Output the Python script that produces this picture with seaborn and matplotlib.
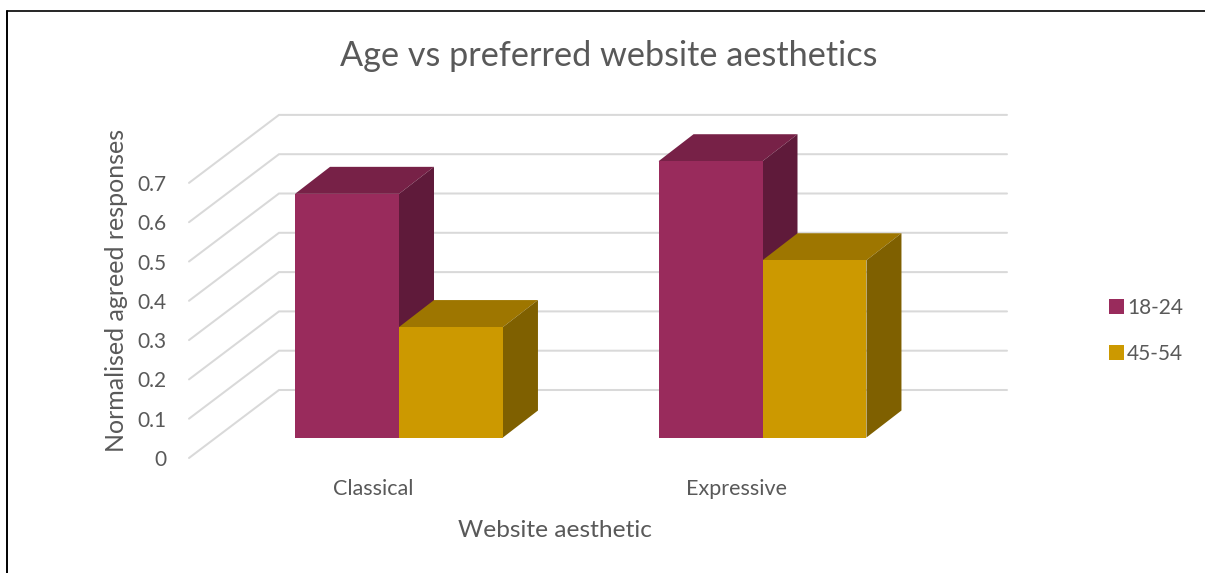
import matplotlib
matplotlib.use("Agg")
import matplotlib.pyplot as plt
import pandas as pd
import seaborn as sns
from matplotlib.lines import Line2D
from matplotlib.patches import Polygon
from matplotlib.transforms import ScaledTranslation

# Chart data
categories = ["Classical", "Expressive"]
age_groups = ["18-24", "45-54"]
values_18_24 = [0.62, 0.703]
values_45_54 = [0.281, 0.451]
y_ticks = [0, 0.1, 0.2, 0.3, 0.4, 0.5, 0.6, 0.7]
y_tick_labels = ["0", "0.1", "0.2", "0.3", "0.4", "0.5", "0.6", "0.7"]

# Face colours of the extruded columns: front, top, side
front_colors = {"18-24": "#992B5C", "45-54": "#CC9900"}
top_colors = {"18-24": "#772147", "45-54": "#9E7600"}
side_colors = {"18-24": "#5F1A3A", "45-54": "#7F6000"}
TEXT = "#595959"
GRID = "#D9D9D9"

W, H, DPI = 1205, 573, 100
sns.set_theme(style="white")
plt.rcParams["font.family"] = ["Lato", "DejaVu Sans"]

fig = plt.figure(figsize=(W / DPI, H / DPI), dpi=DPI, facecolor="white")

# Axes span the floor line of the columns up to the back wall's top
left, right, base, top = 189, 1007, 437.5, 114.0
ax = fig.add_axes([left / W, 1 - base / H, (right - left) / W, (base - top) / H])
ax.set_facecolor("none")

df = pd.DataFrame({
    "aesthetic": categories * 2,
    "age": [age_groups[0]] * 2 + [age_groups[1]] * 2,
    "value": values_18_24 + values_45_54,
})
sns.barplot(data=df, x="aesthetic", y="value", hue="age", order=categories,
            hue_order=age_groups, palette=front_colors, width=0.572, gap=0,
            saturation=1, linewidth=0, ax=ax, zorder=3)

PX_PER_CAT = 363.5
PX_PER_UNIT = 393.0
ax.set_xlim((left - 399) / PX_PER_CAT, (right - 399) / PX_PER_CAT)
ax.set_ylim(0, (base - top) / PX_PER_UNIT)

# Pseudo-3D projection: depth vector in data units
BAR_DX, BAR_DY = 35 / PX_PER_CAT, 27 / PX_PER_UNIT
WALL_DX, WALL_DY = 90 / PX_PER_CAT, 68 / PX_PER_UNIT
FLOOR_DROP = 20.5 / PX_PER_UNIT
x_min, x_max = ax.get_xlim()

# Gridlines run up the side wall and across the back wall
for v in y_ticks:
    y0 = v - FLOOR_DROP
    ax.plot([x_min, x_min + WALL_DX, x_max], [y0, y0 + WALL_DY, y0 + WALL_DY],
            color=GRID, lw=1.45, clip_on=False, zorder=1, solid_joinstyle="miter")

# Extrude each column with a top and a side face
for group, container in zip(age_groups, ax.containers):
    for bar in container:
        x0, x1 = bar.get_x(), bar.get_x() + bar.get_width()
        h = bar.get_height()
        ax.add_patch(Polygon([(x0, h), (x1, h), (x1 + BAR_DX, h + BAR_DY), (x0 + BAR_DX, h + BAR_DY)],
                             closed=True, facecolor=top_colors[group], edgecolor="none",
                             clip_on=False, zorder=2))
        ax.add_patch(Polygon([(x1, 0), (x1, h), (x1 + BAR_DX, h + BAR_DY), (x1 + BAR_DX, BAR_DY)],
                             closed=True, facecolor=side_colors[group], edgecolor="none",
                             clip_on=False, zorder=2))

sns.despine(ax=ax, left=True, bottom=True, top=True, right=True)
ax.grid(False)

# Tick labels sit at the front edge of the floor, off the column plane
ax.set_yticks(y_ticks, y_tick_labels)
ax.set_xticks([0, 1], categories)
ax.tick_params(axis="y", length=0, pad=16.5, labelsize=15, labelcolor=TEXT)
ax.tick_params(axis="x", length=0, pad=30, labelsize=15.5, labelcolor=TEXT)
y_shift = ScaledTranslation(0, -20.5 / DPI, fig.dpi_scale_trans)
x_shift = ScaledTranslation(-26 / DPI, 0, fig.dpi_scale_trans)
for lab in ax.get_yticklabels():
    lab.set_transform(lab.get_transform() + y_shift)
for lab in ax.get_xticklabels():
    lab.set_transform(lab.get_transform() + x_shift)

ax.set_xlabel("Website aesthetic", fontsize=17.6, color=TEXT)
ax.xaxis.set_label_coords(555 / W, 1 - 520 / H, transform=fig.transFigure)
ax.set_ylabel("Normalised agreed responses", fontsize=18, color=TEXT)
ax.yaxis.set_label_coords(128 / W, 1 - 290 / H, transform=fig.transFigure)

fig.suptitle("Age vs preferred website aesthetics", x=609 / W, y=1 - 56 / H,
             va="center", ha="center", fontsize=24.7, color=TEXT)

ax.legend(loc="center left", bbox_to_anchor=(1109 / W, 1 - 331 / H),
          bbox_transform=fig.transFigure, frameon=False, fontsize=15,
          handlelength=0.7, handleheight=0.7, handletextpad=0.17,
          labelspacing=1.25, labelcolor=TEXT, borderpad=0, borderaxespad=0)

# Thin black frame along the top and left edges
fig.add_artist(Line2D([6.5 / W, 1], [1 - 10.5 / H, 1 - 10.5 / H], color="black", lw=1.2))
fig.add_artist(Line2D([6.5 / W, 6.5 / W], [0, 1 - 10.5 / H], color="black", lw=1.4))

fig.savefig("out.png", dpi=DPI, facecolor="white")
